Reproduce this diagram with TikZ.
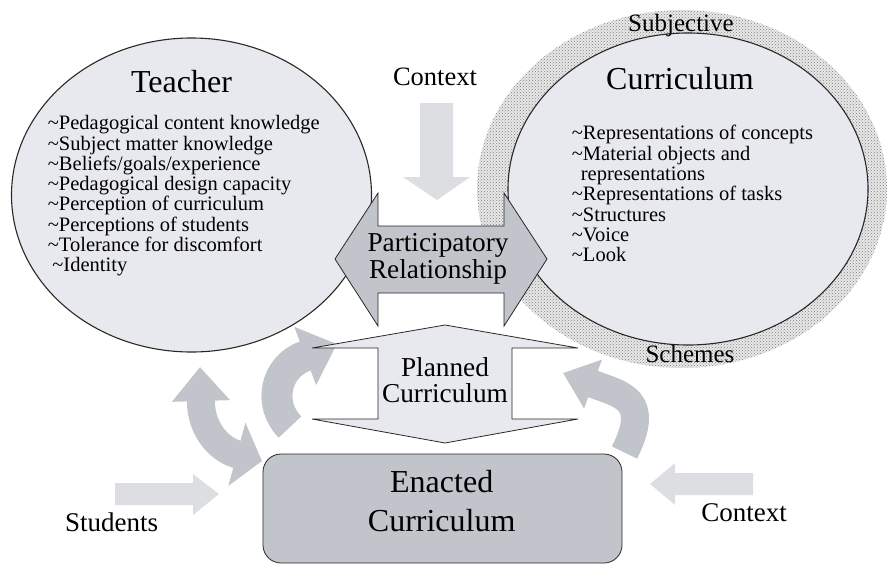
\documentclass[tikz,border=0pt]{standalone}
\usepackage{fontspec}
\setmainfont{Liberation Serif}
\usepackage{tikz}
\usetikzlibrary{arrows.meta}
\usetikzlibrary{patterns}

\definecolor{shade}{RGB}{232,233,238}
\definecolor{midgray}{RGB}{193,196,202}
\definecolor{pale}{RGB}{220,222,226}
\definecolor{ink}{RGB}{40,40,40}

\begin{document}
\begin{tikzpicture}[x=1pt, y=-1pt, >={Triangle[width=58pt, length=34pt]},
        bubble/.style={fill=shade, draw=ink, line width=1.1pt},
        slab/.style={fill=midgray, draw=ink, line width=.8pt},
        swoop/.style={draw=midgray, line width=28pt},
        title/.style={font=\fontsize{32}{33}\selectfont},
        items/.style={font=\fontsize{20.5}{20.3}\selectfont, align=left, anchor=north west, inner sep=0pt},
        lbl/.style={font=\fontsize{27}{27}\selectfont, align=center, inner sep=0pt}]
        \useasboundingbox (0, 0) rectangle (888, 565);

        % schemes ring and the two bubbles
        \fill[gray!18] (682, 189) ellipse [x radius=205, y radius=179];
        \fill[pattern=crosshatch dots, pattern color=gray] (682, 189) ellipse [x radius=205, y radius=179];
        \draw[bubble] (688, 189) ellipse [x radius=180, y radius=156];
        \draw[bubble] (191.5, 195) ellipse [x radius=180, y radius=157];

        \fill[pale] (420, 103) -- (453, 103) -- (453, 177) -- (470, 177) -- (437, 200) -- (403, 177) -- (420, 177) -- cycle;
        \draw[slab] (335, 259) -- (378, 193) -- (378, 226) -- (504, 226) -- (504, 193) -- (547, 259)
            -- (504, 326) -- (504, 293) -- (378, 293) -- (378, 326) -- cycle;

        \draw[swoop, {Triangle[width=56pt, length=34pt]}-{Triangle[width=64pt, length=26pt]}]
            (200, 367) -- (201, 402) .. controls (201, 427) and (217, 448) .. (236, 454) -- (262, 461);
        \draw[swoop, line width=31pt, -{Triangle[width=60pt, length=34pt]}]
            (290, 427) .. controls (267.5, 404.5) and (275, 367) .. (305, 356) -- (337, 344);
        \draw[swoop, -{Triangle[width=50pt, length=32pt]}]
            (624.5, 452.5) .. controls (651.5, 399) and (621, 394.5) .. (593, 384) -- (563, 373);

        \draw[fill=shade, draw=ink, line width=.8pt] (445, 325) -- (578, 348) -- (512, 348) -- (512, 419) -- (578, 419)
            -- (445, 443) -- (312, 419) -- (378, 419) -- (378, 348) -- (312, 348) -- cycle;
        \draw[slab, rounded corners=18pt] (263, 454) rectangle (622, 563);

        \fill[pale] (115, 483) -- (193, 483) -- (193, 474) -- (219, 494) -- (193, 515) -- (193, 505) -- (115, 505) -- cycle;
        \fill[pale] (753, 473) -- (675, 473) -- (675, 463) -- (650, 484) -- (675, 505) -- (675, 495) -- (753, 495) -- cycle;

        \node[title, anchor=base] (teacher) at (181.5, 92.7) {Teacher};
        \node[items] (tlist) at (47.7, 115.3) {\textasciitilde Pedagogical content knowledge\\
            \textasciitilde Subject matter knowledge\\ \textasciitilde Beliefs/goals/experience\\
            \textasciitilde Pedagogical design capacity\\ \textasciitilde Perception of curriculum\\
            \textasciitilde Perceptions of students\\ \textasciitilde Tolerance for discomfort\\
            \hspace{4.5pt}\textasciitilde Identity};
        \node[title, anchor=base] (curric) at (680, 89.3) {Curriculum};
        \node[items] (clist) at (571.7, 125.3) {\textasciitilde Representations of concepts\\
            \textasciitilde Material objects and\\ \hspace{9pt}representations\\
            \textasciitilde Representations of tasks\\ \textasciitilde Structures\\
            \textasciitilde Voice\\ \textasciitilde Look};
        \node[font=\fontsize{25}{25}\selectfont, anchor=base] (subj) at (681, 31) {Subjective};
        \node[font=\fontsize{25}{25}\selectfont, anchor=base] (schemes) at (690, 362.7) {Schemes};

        \node[font=\fontsize{26.5}{26.5}\selectfont, anchor=base] (topctx) at (435, 85) {Context};
        \node[lbl, font=\fontsize{27.3}{27.3}\selectfont] (partic) at (438, 259) {Participatory\\Relationship};
        \node[lbl, font=\fontsize{27.3}{26}\selectfont] (planned) at (445, 380.4) {Planned\\Curriculum};
        \node[lbl, font=\fontsize{32}{39}\selectfont] (enacted) at (441.7, 501.2) {Enacted\\Curriculum};
        \node[font=\fontsize{27}{27}\selectfont, anchor=base] (students) at (111.7, 531.7) {Students};
        \node[font=\fontsize{27}{27}\selectfont, anchor=base] (lowctx) at (744, 521.7) {Context};
\end{tikzpicture}
\end{document}
